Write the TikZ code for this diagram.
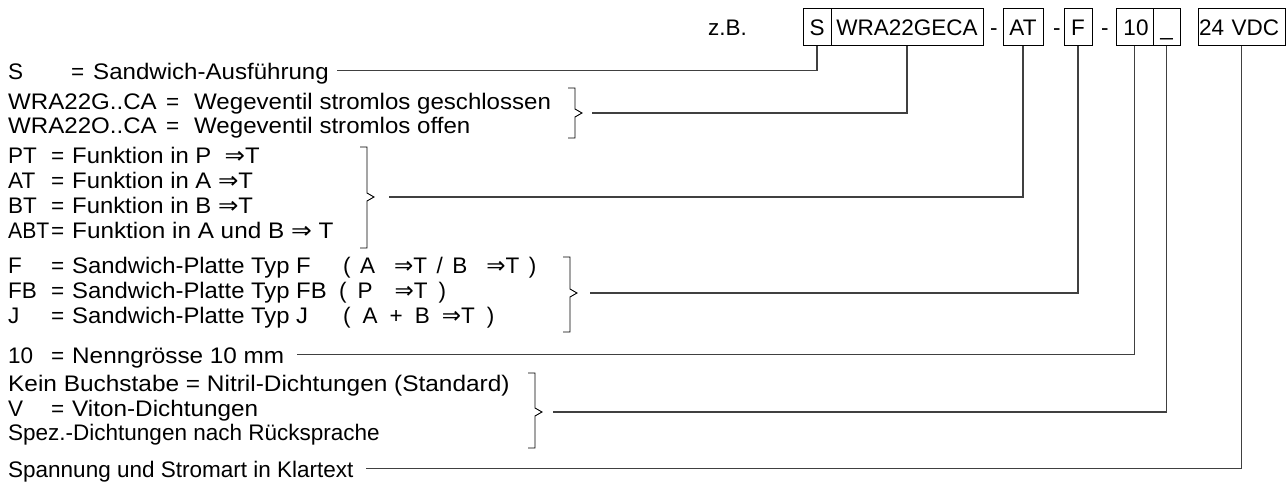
\documentclass[tikz,border=0pt]{standalone}
\usepackage{graphicx}
\usepackage{fontspec}
\setmainfont{Liberation Sans}
\newfontfamily\symfont{DejaVu Sans}
\newcommand\myimp{{\symfont\fontsize{23}{23}\selectfont ⇒}}
\newcommand\myfs{\fontsize{22.5}{27}\selectfont}
\newcommand\sx[2]{\scalebox{#1}[1]{#2}}
\newcommand\wide[2]{{\spaceskip=#1pt plus 1pt\relax #2}}
\newcommand\mybrace[5]{%
  \draw[bracestyle] (#1-7,#2) -- (#1,#2) -- (#1,#4-4) -- (#1+7,#4) -- (#1,#4+4) -- (#1,#3) -- (#1-7,#3);
  \coordinate (#5) at (#1+7,#4);}
\begin{document}
\begin{tikzpicture}[x=1pt,y=-1pt,
  lbl/.style={anchor=base west, inner sep=0pt, text height=16.5pt, text depth=0pt, font=\myfs},
  cbox/.style={draw, line width=1pt, minimum height=37pt, inner sep=0pt, text height=16pt, text depth=0pt, font=\myfs},
  conn/.style={line width=1.1pt, draw=black!75},
  bracestyle/.style={line width=0.9pt, draw=black}]
\useasboundingbox (0,0) rectangle (1288,482);

% --- code boxes ---
\node[lbl] (zb) at (708,35) {z.B.};
\node[cbox, minimum width=28pt] (bS) at (817,27) {S};
\node[cbox, minimum width=152pt] (bW) at (907,27) {WRA22GECA};
\node[lbl] (d1) at (990,35) {-};
\node[cbox, minimum width=40pt] (bAT) at (1023,27) {AT};
\node[lbl] (d2) at (1053,35) {-};
\node[cbox, minimum width=28pt] (bF) at (1078,27) {F};
\node[lbl] (d3) at (1101,35) {-};
\node[cbox, minimum width=37pt] (b10) at (1134.5,27) {\hspace{3pt}10};
\node[cbox, minimum width=27pt] (bU) at (1166.5,27) {\_};
\node[cbox, minimum width=87pt, text width=85pt, align=left, inner xsep=1pt] (bV) at (1241.5,27) {24 VDC};

% --- S ---
\node[lbl] (sa) at (8,79) {S};
\node[lbl] (sb) at (71,79) {=};
\node[lbl] (sc) at (93,79) {\sx{1.07}{Sandwich-Ausführung}};

% --- WRA ---
\node[lbl] (wa1) at (8,109) {\sx{1.07}{WRA22G..CA}};
\node[lbl] (wb1) at (166,109) {=};
\node[lbl] (wc1) at (194,109) {\sx{1.07}{Wegeventil stromlos geschlossen}};
\node[lbl] (wa2) at (8,133) {\sx{1.07}{WRA22O..CA}};
\node[lbl] (wb2) at (166,133) {=};
\node[lbl] (wc2) at (194,133) {\sx{1.07}{Wegeventil stromlos offen}};
\mybrace{575}{88}{138}{113}{br1}

% --- function ---
\node[lbl] (pa1) at (8,163) {PT};
\node[lbl] (pb1) at (51,163) {=};
\node[lbl] (pc1) at (72,163) {\sx{1.06}{Funktion in P \ \myimp T}};
\node[lbl] (pa2) at (8,188) {AT};
\node[lbl] (pb2) at (51,188) {=};
\node[lbl] (pc2) at (72,188) {\sx{1.06}{Funktion in A \myimp T}};
\node[lbl] (pa3) at (8,213) {BT};
\node[lbl] (pb3) at (51,213) {=};
\node[lbl] (pc3) at (72,213) {\sx{1.06}{Funktion in B \myimp T}};
\node[lbl] (pa4) at (8,238) {\sx{0.94}{ABT}};
\node[lbl] (pb4) at (51,238) {=};
\node[lbl] (pc4) at (72,238) {\sx{1.08}{Funktion in A und B \myimp\ T}};
\mybrace{367}{147}{248}{197}{br2}

% --- plate ---
\node[lbl] (fa1) at (8,273) {F};
\node[lbl] (fb1) at (51,273) {=};
\node[lbl] (fc1) at (72,273) {\sx{1.06}{Sandwich-Platte Typ F}};
\node[lbl] (fd1) at (343,273) {\wide{9.5}{( A \ \myimp T / B \ \myimp T )}};
\node[lbl] (fa2) at (8,298) {FB};
\node[lbl] (fb2) at (51,298) {=};
\node[lbl] (fc2) at (72,298) {\sx{1.06}{Sandwich-Platte Typ FB}};
\node[lbl] (fd2) at (339,298) {\wide{11}{( P \ \myimp T )}};
\node[lbl] (fa3) at (8,323) {J};
\node[lbl] (fb3) at (51,323) {=};
\node[lbl] (fc3) at (72,323) {\sx{1.06}{Sandwich-Platte Typ J}};
\node[lbl] (fd3) at (343,323) {\wide{12}{( A + B \myimp T )}};
\mybrace{570}{257}{332}{293}{br3}

% --- size ---
\node[lbl] (na) at (8,363) {10};
\node[lbl] (nb) at (51,363) {=};
\node[lbl] (nc) at (72,363) {\sx{1.08}{Nenngrösse 10 mm}};

% --- seals ---
\node[lbl] (ka) at (8,391) {\sx{1.085}{Kein Buchstabe = Nitril-Dichtungen (Standard)}};
\node[lbl] (va) at (8,416) {V};
\node[lbl] (vb) at (51,416) {=};
\node[lbl] (vc) at (72,416) {\sx{1.08}{Viton-Dichtungen}};
\node[lbl] (xa) at (8,440) {\sx{1.0}{Spez.-Dichtungen nach Rücksprache}};
\mybrace{535}{373}{448}{412}{br4}

% --- voltage ---
\node[lbl] (ua) at (8,477) {\sx{1.0}{Spannung und Stromart in Klartext}};

% --- connectors ---
\draw[conn] (bS.south) |- ([xshift=8pt]sc.east);
\draw[conn] (bW.south) |- ([xshift=10pt]br1);
\draw[conn] (bAT.south) |- ([xshift=15pt]br2);
\draw[conn] (bF.south) |- ([xshift=13pt]br3);
\draw[conn] (b10.south) |- ([xshift=13pt]nc.east);
\draw[conn] (bU.south) |- ([xshift=11pt]br4);
\draw[conn] (bV.south) |- ([xshift=12pt]ua.east);
\end{tikzpicture}
\end{document}
